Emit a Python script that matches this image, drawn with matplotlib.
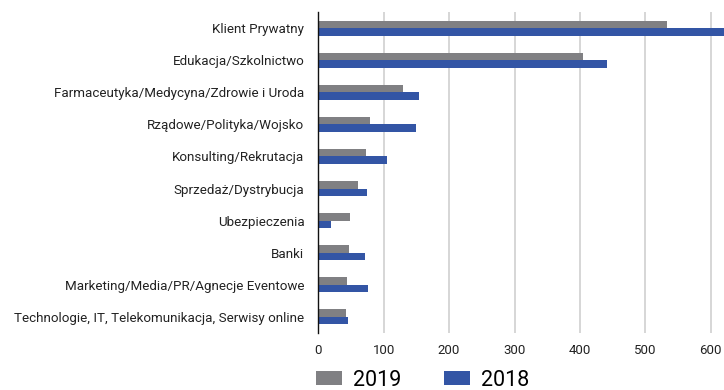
import matplotlib
matplotlib.use("Agg")
import matplotlib.pyplot as plt
import numpy as np

categories = [
    "Klient Prywatny",
    "Edukacja/Szkolnictwo",
    "Farmaceutyka/Medycyna/Zdrowie i Uroda",
    "Rządowe/Polityka/Wojsko",
    "Konsulting/Rekrutacja",
    "Sprzedaż/Dystrybucja",
    "Ubezpieczenia",
    "Banki",
    "Marketing/Media/PR/Agnecje Eventowe",
    "Technologie, IT, Telekomunikacja, Serwisy online",
]
values_2019 = [533, 405, 130, 79, 73, 61, 49, 47, 44, 42]
values_2018 = [625, 441, 154, 149, 105, 74, 19, 71, 76, 45]
xticks = [0, 100, 200, 300, 400, 500, 600]

plt.rcParams['font.family'] = ['Roboto', 'DejaVu Sans']

fig = plt.figure(figsize=(7.24, 3.90), dpi=100)
ax = fig.add_axes([318.3/724, 1 - 333/390, (724 - 318.3)/724, (333 - 12)/390])

y = np.arange(len(categories))
h = 0.235
c19 = '#808083'
c18 = '#3355a5'
ax.barh(y - h/2, values_2019, height=h, color=c19, label='2019', zorder=3)
ax.barh(y + h/2, values_2018, height=h, color=c18, label='2018', zorder=3)

ax.set_ylim(len(categories) - 0.5, -0.5)
xmax = 600 * (724 - 318.3) / (710.7 - 318.3)
ax.set_xlim(0, xmax)
ax.set_xticks(xticks)
ax.set_xticklabels([str(t) for t in xticks], fontsize=9.5, color='#222222')
ax.set_yticks(y)
ax.set_yticklabels(categories, fontsize=9.6, color='#222222')
ax.tick_params(axis='both', length=0)
ax.tick_params(axis='y', pad=10)
ax.tick_params(axis='x', pad=8)
ax.grid(axis='x', color='#d6d6d6', linewidth=1.4, zorder=0)
for s in ['top', 'right', 'bottom']:
    ax.spines[s].set_visible(False)
ax.spines['left'].set_color('#111111')
ax.spines['left'].set_linewidth(1.0)
ax.spines['left'].set_zorder(4)

handles, labels = ax.get_legend_handles_labels()
fig.legend(handles, labels, loc='center left', bbox_to_anchor=(316/724, 1 - 380/390),
           ncol=2, frameon=False, fontsize=15.5, handlelength=1.2, handleheight=0.6,
           columnspacing=2.0, handletextpad=0.5, borderaxespad=0, borderpad=0)

fig.savefig('out.png', dpi=100)
